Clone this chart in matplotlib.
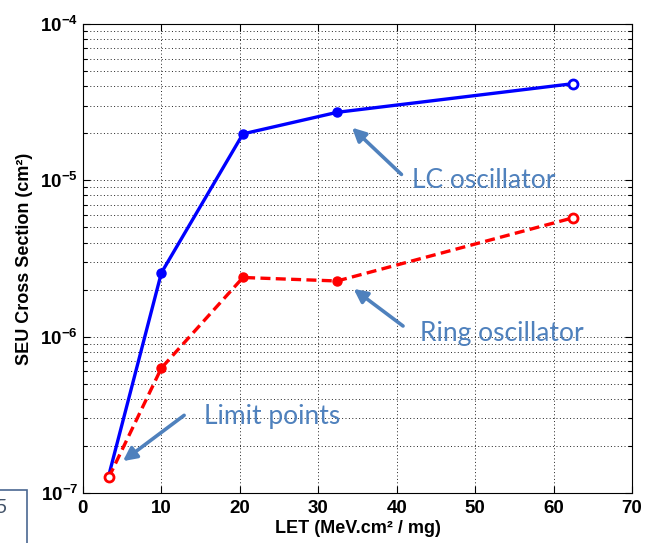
import numpy as np
import matplotlib
matplotlib.use('Agg')
import matplotlib.pyplot as plt
from matplotlib.patches import Rectangle
from matplotlib.ticker import FixedLocator, FixedFormatter, LogLocator, NullFormatter

# SEU cross sections vs. LET
let_vals = [3.3, 10.0, 20.4, 32.4, 62.5]
lc_sigma = [1.3e-7, 2.56e-6, 1.98e-5, 2.72e-5, 4.15e-5]
ring_sigma = [1.26e-7, 6.3e-7, 2.39e-6, 2.27e-6, 5.76e-6]

x_ticks = [0, 10, 20, 30, 40, 50, 60, 70]
y_ticks = [1e-7, 1e-6, 1e-5, 1e-4]
y_tick_labels = [r'$\mathbf{10^{-7}}$', r'$\mathbf{10^{-6}}$',
                 r'$\mathbf{10^{-5}}$', r'$\mathbf{10^{-4}}$']

plt.rcParams['font.family'] = 'Liberation Sans'
plt.rcParams['mathtext.fontset'] = 'custom'
plt.rcParams['mathtext.bf'] = 'Liberation Sans:bold'
plt.rcParams['mathtext.rm'] = 'Liberation Sans:bold'

note_color = '#4F81BD'

fig = plt.figure(figsize=(6.53, 5.43), dpi=100)
ax = fig.add_axes([0.127, 0.092, 0.841, 0.864])

# LC oscillator: solid blue, open marker at the last point
ax.plot(let_vals, lc_sigma, color='blue', lw=2.4, zorder=3)
ax.plot(let_vals[1:-1], lc_sigma[1:-1], 'o', color='blue', ms=6.5, zorder=4)
ax.plot(let_vals[-1:], lc_sigma[-1:], 'o', mfc='white', mec='blue', mew=2, ms=6.5, zorder=4)

# Ring oscillator: dashed red, open markers at both ends
ax.plot(let_vals, ring_sigma, color='red', lw=2.4, ls=(0, (3, 1.6)), zorder=3)
ax.plot(let_vals[1:-1], ring_sigma[1:-1], 'o', color='red', ms=6.5, zorder=4)
ax.plot([let_vals[0], let_vals[-1]], [ring_sigma[0], ring_sigma[-1]], 'o',
        mfc='white', mec='red', mew=2, ms=6.5, zorder=5)

ax.set_yscale('log')
ax.set_xlim(0, 70)
ax.set_ylim(1e-7, 1e-4)

ax.xaxis.set_major_locator(FixedLocator(x_ticks))
ax.set_xticklabels([str(t) for t in x_ticks])
ax.yaxis.set_major_locator(FixedLocator(y_ticks))
ax.yaxis.set_major_formatter(FixedFormatter(y_tick_labels))
ax.yaxis.set_minor_locator(LogLocator(base=10, subs=np.arange(2, 10)))
ax.yaxis.set_minor_formatter(NullFormatter())

ax.tick_params(which='both', direction='in', top=True, right=True, width=0.8)
ax.tick_params(which='major', length=5, labelsize=13.5)
ax.tick_params(axis='x', which='major', pad=5)
ax.tick_params(which='minor', length=3)
for lbl in ax.get_xticklabels():
    lbl.set_fontweight('bold')

ax.grid(True, which='major', ls=(0, (1, 2.5)), color='#222222', lw=0.7)
ax.grid(True, which='minor', axis='y', ls=(0, (1, 2.5)), color='#222222', lw=0.7)
for sp in ax.spines.values():
    sp.set_linewidth(0.8)

ax.set_xlabel('LET (MeV.cm² / mg)', fontsize=13, fontweight='bold', labelpad=2)
ax.set_ylabel('SEU Cross Section (cm²)', fontsize=13, fontweight='bold', labelpad=5)

# callouts
arrow = dict(arrowstyle='-|>', color=note_color, lw=2.6, mutation_scale=20, shrinkA=0, shrinkB=0)
ax.annotate('', xy=(34.3, 2.17e-5), xytext=(40.6, 1.09e-5), arrowprops=arrow, zorder=6)
ax.annotate('', xy=(34.5, 2.02e-6), xytext=(40.8, 1.17e-6), arrowprops=arrow, zorder=6)
ax.annotate('', xy=(5.1, 1.6e-7), xytext=(12.9, 3.14e-7), arrowprops=arrow, zorder=6)
ax.text(41.9, 9.9e-6, 'LC oscillator', color=note_color, fontsize=19,
        family='Lato', va='center', ha='left', zorder=6)
ax.text(43.0, 1.045e-6, 'Ring oscillator', color=note_color, fontsize=19,
        family='Lato', va='center', ha='left', zorder=6)
ax.text(15.4, 3.09e-7, 'Limit points', color=note_color, fontsize=19,
        family='Lato', va='center', ha='left', zorder=6)

# clipped slide box in the corner
fig.patches.append(Rectangle((-0.05, -0.05), 0.091, 0.148, transform=fig.transFigure,
                             fill=False, ec='#4A6791', lw=1.2))
fig.text(0.003, 0.065, '5', color='#44546A', fontsize=14, family='Lato', ha='center', va='center')

fig.savefig('out.png', dpi=100)
